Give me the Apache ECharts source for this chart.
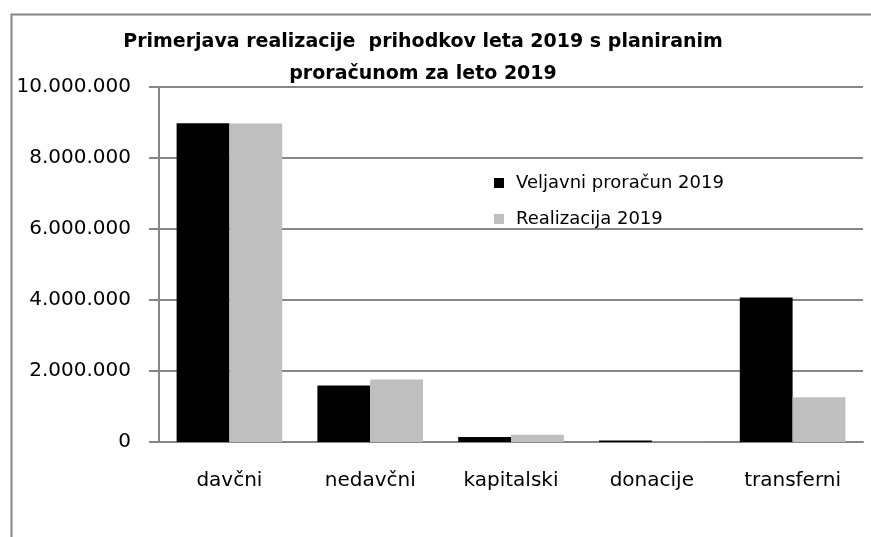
<!DOCTYPE html>
<html>
<head>
<meta charset="utf-8">
<script src="https://cdn.jsdelivr.net/npm/echarts@6/dist/echarts.min.js"></script>
<style>
    html, body { margin: 0; padding: 0; background: #fff; }
    #chart { width: 871px; height: 537px; }
</style>
</head>
<body>
<div id="chart"></div>
<script>
// podatki
const categories = ["davčni", "nedavčni", "kapitalski", "donacije", "transferni"];
const seriesNames = ["Veljavni proračun 2019", "Realizacija 2019"];
const veljavni = [8980000, 1590000, 140000, 40000, 4070000];
const realizacija = [8970000, 1760000, 205000, 5000, 1260000];
const yTicks = [0, 2000000, 4000000, 6000000, 8000000, 10000000];

const FONT = "DejaVu Sans";
const AXIS_GRAY = "#868686";

function formatDots(v) {
    return String(v).replace(/\B(?=(\d{3})+(?!\d))/g, ".");
}

const chart = echarts.init(document.getElementById("chart"));

chart.setOption({
    backgroundColor: "#fff",
    animation: false,
    title: {
        text: "Primerjava realizacije  prihodkov leta 2019 s planiranim\nproračunom za leto 2019",
        left: 418,
        top: 21,
        textAlign: "center",
        textStyle: { fontFamily: FONT, fontSize: 19, fontWeight: "bold", color: "#000", lineHeight: 32 },
    },
    graphic: [{
        // okvir grafikona
        type: "rect",
        left: 9,
        top: 12,
        shape: { width: 900, height: 600 },
        style: { fill: null, stroke: AXIS_GRAY, lineWidth: 2 },
        silent: true,
    }],
    legend: {
        orient: "vertical",
        left: 494,
        top: 174,
        padding: 0,
        itemWidth: 10,
        itemHeight: 10,
        itemGap: 18,
        icon: "rect",
        data: seriesNames,
        textStyle: { fontFamily: FONT, fontSize: 18, color: "#000", padding: [0, 0, 0, 7] },
    },
    grid: { left: 159, right: 8, top: 87, bottom: 95, containLabel: false },
    xAxis: {
        type: "category",
        data: categories,
        axisLine: { lineStyle: { color: AXIS_GRAY, width: 2 } },
        axisTick: { length: 8, lineStyle: { color: AXIS_GRAY, width: 2 } },
        axisLabel: { fontFamily: FONT, fontSize: 20, color: "#000", margin: 29 },
    },
    yAxis: {
        type: "value",
        min: yTicks[0],
        max: yTicks[yTicks.length - 1],
        interval: 2000000,
        axisLine: { show: true, lineStyle: { color: AXIS_GRAY, width: 2 } },
        axisTick: { show: true, length: 10, lineStyle: { color: AXIS_GRAY, width: 2 } },
        splitLine: { lineStyle: { color: AXIS_GRAY, width: 2 } },
        axisLabel: { fontFamily: FONT, fontSize: 20, color: "#000", margin: 28, formatter: formatDots },
    },
    series: [
        {
            name: seriesNames[0],
            type: "bar",
            data: veljavni,
            barGap: "0%",
            barCategoryGap: "25%",
            itemStyle: { color: "#000" },
        },
        {
            name: seriesNames[1],
            type: "bar",
            data: realizacija,
            itemStyle: { color: "#BFBFBF" },
        },
    ],
});
</script>
</body>
</html>
